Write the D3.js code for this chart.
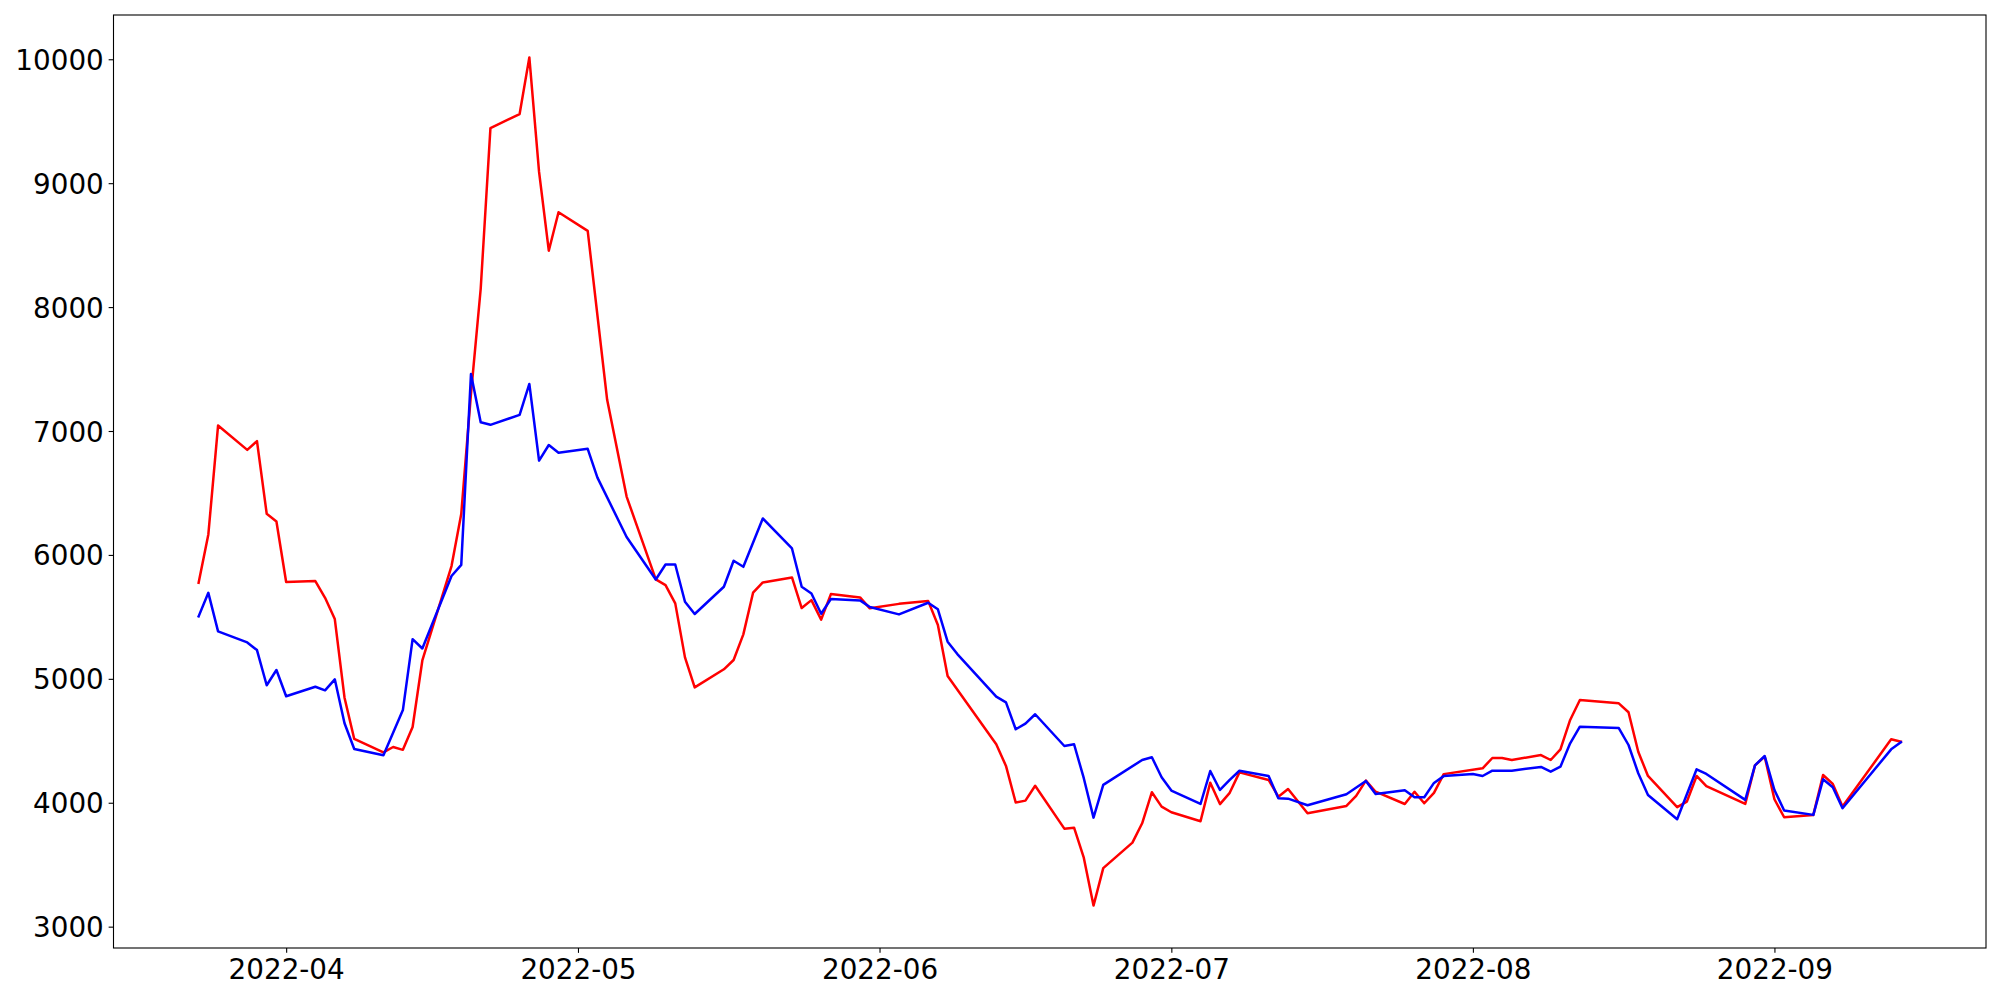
<!DOCTYPE html>
<html>
<head>
<meta charset="utf-8">
<script src="https://cdn.jsdelivr.net/npm/d3@7"></script>
<style>
  html, body { margin: 0; padding: 0; background: #ffffff; }
  svg { display: block; }
</style>
</head>
<body>
<svg id="chart" width="2000" height="1000"></svg>
<script>
// ---- Data ----
const redDates = [
  "2022-03-23","2022-03-24","2022-03-25","2022-03-28","2022-03-29","2022-03-30","2022-03-31",
  "2022-04-01","2022-04-04","2022-04-05","2022-04-06","2022-04-07","2022-04-08",
  "2022-04-11","2022-04-12","2022-04-13","2022-04-14","2022-04-15",
  "2022-04-18","2022-04-19","2022-04-20","2022-04-21","2022-04-22",
  "2022-04-25","2022-04-26","2022-04-27","2022-04-28","2022-04-29",
  "2022-05-02","2022-05-04","2022-05-06",
  "2022-05-09","2022-05-10","2022-05-11","2022-05-12","2022-05-13",
  "2022-05-16","2022-05-17","2022-05-18","2022-05-19","2022-05-20",
  "2022-05-23","2022-05-24","2022-05-25","2022-05-26","2022-05-27",
  "2022-05-30","2022-05-31","2022-06-03",
  "2022-06-06","2022-06-07","2022-06-08",
  "2022-06-13","2022-06-14","2022-06-15","2022-06-16","2022-06-17",
  "2022-06-20","2022-06-21","2022-06-22","2022-06-23","2022-06-24",
  "2022-06-27","2022-06-28","2022-06-29","2022-06-30","2022-07-01",
  "2022-07-04","2022-07-05","2022-07-06","2022-07-07","2022-07-08",
  "2022-07-11","2022-07-12","2022-07-13","2022-07-15",
  "2022-07-19","2022-07-20","2022-07-21","2022-07-22",
  "2022-07-25","2022-07-26","2022-07-27","2022-07-28","2022-07-29",
  "2022-08-02","2022-08-03","2022-08-04","2022-08-05",
  "2022-08-08","2022-08-09","2022-08-10","2022-08-11","2022-08-12",
  "2022-08-16","2022-08-17","2022-08-18","2022-08-19",
  "2022-08-22","2022-08-23","2022-08-24","2022-08-25",
  "2022-08-29","2022-08-30","2022-08-31","2022-09-01","2022-09-02",
  "2022-09-05","2022-09-06","2022-09-07","2022-09-08",
  "2022-09-13","2022-09-14"
];
const redValues = [
  5775, 6165, 7044, 6848, 6918, 6332, 6270,
  5781, 5789, 5654, 5482, 4848, 4515,
  4407, 4450, 4427, 4611, 5148,
  5910, 6330, 7300, 8148, 9444,
  9558, 10015, 9091, 8455, 8765,
  8615, 7252, 6471,
  5802, 5756, 5609, 5173, 4931,
  5077, 5152, 5359, 5695, 5778,
  5818, 5571, 5635, 5478, 5684,
  5657, 5569, 5605,
  5629, 5434, 5023,
  4472, 4297, 4002, 4017, 4137,
  3791, 3799, 3557, 3170, 3472,
  3678, 3834, 4085, 3969, 3923,
  3851, 4162, 3989, 4080, 4245,
  4184, 4049, 4111, 3915,
  3974, 4055, 4179, 4089,
  3990, 4089, 3996, 4080, 4231,
  4278, 4361, 4361, 4345,
  4385, 4345, 4431, 4668, 4829,
  4802, 4730, 4412, 4216,
  3964, 4009, 4216, 4135,
  3990, 4302, 4372, 4028, 3883,
  3902, 4224, 4152, 3969,
  4512, 4493
];

const blueDates = [
  "2022-03-23","2022-03-24","2022-03-25","2022-03-28","2022-03-29","2022-03-30","2022-03-31",
  "2022-04-01","2022-04-04","2022-04-05","2022-04-06","2022-04-07","2022-04-08",
  "2022-04-11","2022-04-13","2022-04-14","2022-04-15",
  "2022-04-18","2022-04-19","2022-04-20","2022-04-21","2022-04-22",
  "2022-04-25","2022-04-26","2022-04-27","2022-04-28","2022-04-29",
  "2022-05-02","2022-05-03","2022-05-06",
  "2022-05-09","2022-05-10","2022-05-11","2022-05-12","2022-05-13",
  "2022-05-16","2022-05-17","2022-05-18","2022-05-20",
  "2022-05-23","2022-05-24","2022-05-25","2022-05-26","2022-05-27",
  "2022-05-30","2022-05-31","2022-06-03",
  "2022-06-06","2022-06-07","2022-06-08","2022-06-09",
  "2022-06-13","2022-06-14","2022-06-15","2022-06-16","2022-06-17",
  "2022-06-20","2022-06-21","2022-06-22","2022-06-23","2022-06-24",
  "2022-06-28","2022-06-29","2022-06-30","2022-07-01",
  "2022-07-04","2022-07-05","2022-07-06","2022-07-07","2022-07-08",
  "2022-07-11","2022-07-12","2022-07-13","2022-07-15",
  "2022-07-19","2022-07-21","2022-07-22",
  "2022-07-25","2022-07-26","2022-07-27","2022-07-28","2022-07-29",
  "2022-08-01","2022-08-02","2022-08-03","2022-08-05",
  "2022-08-08","2022-08-09","2022-08-10","2022-08-11","2022-08-12",
  "2022-08-16","2022-08-17","2022-08-18","2022-08-19",
  "2022-08-22","2022-08-24","2022-08-25",
  "2022-08-29","2022-08-30","2022-08-31","2022-09-01","2022-09-02",
  "2022-09-05","2022-09-06","2022-09-07","2022-09-08",
  "2022-09-13","2022-09-14"
];
const blueValues = [
  5504, 5694, 5383, 5294, 5232, 4948, 5071,
  4859, 4936, 4907, 4996, 4641, 4434,
  4384, 4748, 5320, 5245,
  5830, 5920, 7460, 7070, 7050,
  7130, 7380, 6761, 6887, 6824,
  6856, 6624, 6145,
  5802, 5923, 5923, 5622, 5523,
  5743, 5953, 5904, 6294,
  6052, 5743, 5689, 5525, 5644,
  5633, 5579, 5520,
  5614, 5561, 5300, 5200,
  4856, 4810, 4593, 4638, 4714,
  4458, 4472, 4198, 3880, 4144,
  4345, 4367, 4206, 4098,
  3990, 4256, 4103, 4184, 4258,
  4216, 4036, 4033, 3980,
  4069, 4176, 4071,
  4101, 4044, 4044, 4160, 4215,
  4232, 4216, 4259, 4259,
  4289, 4251, 4291, 4480, 4614,
  4603, 4466, 4238, 4063,
  3867, 4270, 4232,
  4023, 4302, 4377, 4103, 3937,
  3902, 4189, 4125, 3956,
  4431, 4488
];

const xTickDates = ["2022-04-01","2022-05-01","2022-06-01","2022-07-01","2022-08-01","2022-09-01"];
const yTickValues = [3000, 4000, 5000, 6000, 7000, 8000, 9000, 10000];

// ---- Layout ----
const W = 2000, H = 1000;
const box = { left: 113.5, right: 1986, top: 15, bottom: 948 };
const FONT = "'DejaVu Sans', sans-serif";
const FONT_SIZE = 27.8;
const TICK_LEN = 4.86, TICK_PAD = 4.86;

const parse = d3.utcParse("%Y-%m-%d");
const red = redDates.map((d, i) => ({ date: parse(d), value: redValues[i] }));
const blue = blueDates.map((d, i) => ({ date: parse(d), value: blueValues[i] }));
const all = red.concat(blue);

// matplotlib-like 5% margins
const [xMin, xMax] = d3.extent(all, d => d.date);
const xPad = (xMax - xMin) * 0.05;
const [yMin, yMax] = d3.extent(all, d => d.value);
const yPad = (yMax - yMin) * 0.05;

const x = d3.scaleUtc()
  .domain([new Date(+xMin - xPad), new Date(+xMax + xPad)])
  .range([box.left, box.right]);
const y = d3.scaleLinear()
  .domain([yMin - yPad, yMax + yPad])
  .range([box.bottom, box.top]);

const svg = d3.select("#chart");
svg.append("rect").attr("width", W).attr("height", H).attr("fill", "#ffffff");

const clip = svg.append("defs").append("clipPath").attr("id", "plotclip");
clip.append("rect")
  .attr("x", box.left).attr("y", box.top)
  .attr("width", box.right - box.left).attr("height", box.bottom - box.top);

const line = d3.line().x(d => x(d.date)).y(d => y(d.value));

const plot = svg.append("g").attr("clip-path", "url(#plotclip)");
plot.append("path").datum(red)
  .attr("fill", "none").attr("stroke", "#ff0000")
  .attr("stroke-width", 2.5).attr("stroke-linejoin", "round").attr("stroke-linecap", "square")
  .attr("d", line);
plot.append("path").datum(blue)
  .attr("fill", "none").attr("stroke", "#0000ff")
  .attr("stroke-width", 2.5).attr("stroke-linejoin", "round").attr("stroke-linecap", "square")
  .attr("d", line);

// Axes
const xAxis = d3.axisBottom(x)
  .tickValues(xTickDates.map(parse))
  .tickFormat(d3.utcFormat("%Y-%m"))
  .tickSize(TICK_LEN).tickPadding(TICK_PAD);
const yAxis = d3.axisLeft(y)
  .tickValues(yTickValues)
  .tickFormat(d3.format("d"))
  .tickSize(TICK_LEN).tickPadding(TICK_PAD);

const gx = svg.append("g").attr("transform", `translate(0,${box.bottom})`).call(xAxis);
const gy = svg.append("g").attr("transform", `translate(${box.left},0)`).call(yAxis);

[gx, gy].forEach(g => {
  g.select(".domain").remove();
  g.selectAll(".tick line").attr("stroke", "#000").attr("stroke-width", 1.1);
  g.selectAll(".tick text")
    .attr("fill", "#000")
    .style("font-family", FONT)
    .style("font-size", FONT_SIZE + "px");
});
gx.selectAll(".tick text").attr("dy", "0.76em");
gy.selectAll(".tick text").attr("dy", "0.36em");

// Frame (spines)
svg.append("rect")
  .attr("x", box.left).attr("y", box.top)
  .attr("width", box.right - box.left).attr("height", box.bottom - box.top)
  .attr("fill", "none").attr("stroke", "#000").attr("stroke-width", 1.1);
</script>
</body>
</html>
